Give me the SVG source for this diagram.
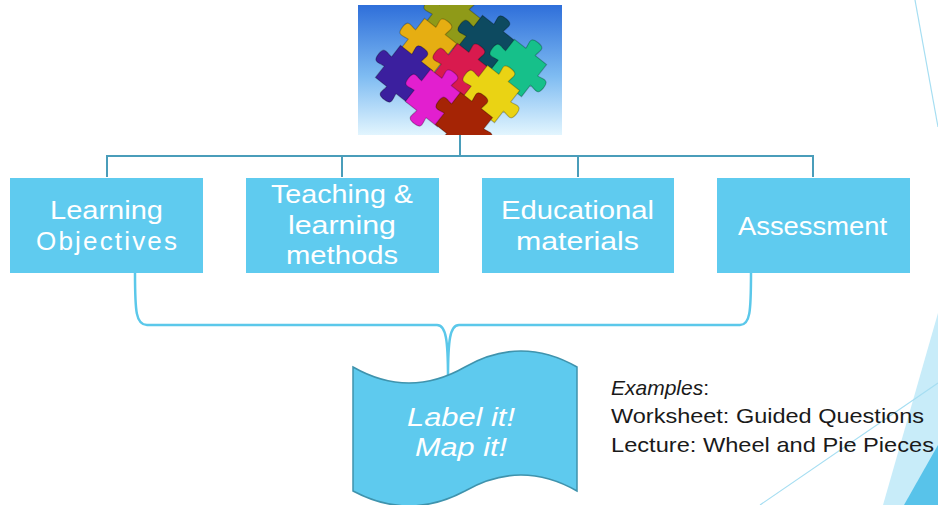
<svg xmlns="http://www.w3.org/2000/svg" xmlns:xlink="http://www.w3.org/1999/xlink" width="938" height="505" viewBox="0 0 938 505">
  <defs>
    <style>
      .box { fill: #5fcbef; }
      .boxtext { font-family: "Liberation Sans", "Open Sans", sans-serif; font-size: 26px; fill: #ffffff; text-anchor: middle; }
      .tree { fill: none; stroke: #4a9dba; stroke-width: 2; }
      .brace { fill: none; stroke: #5bc8ea; stroke-width: 2.5; }
      .ex { font-family: "Liberation Sans", "Open Sans", sans-serif; font-size: 21px; fill: #1a1a1a; }
      .lbl { font-family: "Liberation Sans", "Open Sans", sans-serif; font-size: 25px; font-style: italic; fill: #ffffff; text-anchor: middle; }
      .pz { stroke: rgba(0,0,0,0.25); stroke-width: 0.9; }
      .deco { fill: none; stroke: #a6def2; stroke-width: 1.2; }
    </style>
    <linearGradient id="sky" x1="0" y1="0" x2="0" y2="1">
      <stop offset="0" stop-color="#2f6fda"/>
      <stop offset="0.55" stop-color="#7fbcf2"/>
      <stop offset="1" stop-color="#e2f5fe"/>
    </linearGradient>
    <clipPath id="imgclip">
      <rect x="358" y="5" width="204" height="130"/>
    </clipPath>
    <path id="piece" d="M-17,-17 L-5,-17 C-5,-22 -9,-27 0,-27 C9,-27 5,-22 5,-17 L17,-17 L17,-5 C22,-5 27,-9 27,0 C27,9 22,5 17,5 L17,17 L5,17 C5,22 9,27 0,27 C-9,27 -5,22 -5,17 L-17,17 L-17,5 C-22,5 -27,9 -27,0 C-27,-9 -22,-5 -17,-5 Z"/>
  </defs>

  <rect width="938" height="505" fill="#ffffff"/>

  <!-- decorative right edge -->
  <g id="decoration">
    <polygon points="883,505 938,313 938,505" fill="#c8ecf9"/>
    <polygon points="904,505 938,445 938,505" fill="#58c3ea"/>
    <line class="deco" x1="915" y1="0" x2="938" y2="127"/>
    <line class="deco" x1="760" y1="505" x2="938" y2="383"/>
  </g>

  <!-- puzzle picture -->
  <g id="puzzle-image">
    <rect x="358" y="5" width="204" height="130" fill="url(#sky)"/>
    <g clip-path="url(#imgclip)">
      <use href="#piece" class="pz" fill="#8f9a18" transform="translate(452,22) rotate(38) scale(1.2)"/>
      <use href="#piece" class="pz" fill="#0d4a60" transform="translate(486,44) rotate(38) scale(1.2)"/>
      <use href="#piece" class="pz" fill="#e6ae12" transform="translate(428,47) rotate(38) scale(1.2)"/>
      <use href="#piece" class="pz" fill="#16c08a" transform="translate(518,68) rotate(38) scale(1.2)"/>
      <use href="#piece" class="pz" fill="#d91a4e" transform="translate(461,72) rotate(38) scale(1.2)"/>
      <use href="#piece" class="pz" fill="#3b1f9e" transform="translate(404,74) rotate(38) scale(1.2)"/>
      <use href="#piece" class="pz" fill="#ead314" transform="translate(491,94) rotate(38) scale(1.2)"/>
      <use href="#piece" class="pz" fill="#e21fcf" transform="translate(434,98) rotate(38) scale(1.2)"/>
      <use href="#piece" class="pz" fill="#a52405" transform="translate(464,121) rotate(38) scale(1.2)"/>
    </g>
  </g>

  <!-- connectors -->
  <g id="connectors">
    <path class="tree" d="M460,135 L460,156 M107,177 L107,156 L813,156 L813,177 M342,156 L342,177 M578,156 L578,177"/>
    <path class="brace" d="M135,273 C135,312 136,325 147,325 L437,325 C446,325 448,340 448,378 C448,340 450,325 459,325 L740,325 C750,325 751,312 751,273"/>
  </g>

  <!-- nodes -->
  <g id="node-learning-objectives">
    <rect class="box" x="10" y="178" width="193" height="95"/>
    <text class="boxtext" x="106.5" y="219" textLength="113" lengthAdjust="spacingAndGlyphs">Learning</text>
    <text class="boxtext" x="106.5" y="250" textLength="141" lengthAdjust="spacing">Objectives</text>
  </g>

  <g id="node-teaching-methods">
    <rect class="box" x="246" y="178" width="193" height="95"/>
    <text class="boxtext" x="342" y="203" textLength="142" lengthAdjust="spacingAndGlyphs">Teaching &amp;</text>
    <text class="boxtext" x="342" y="234" textLength="108" lengthAdjust="spacingAndGlyphs">learning</text>
    <text class="boxtext" x="342" y="264" textLength="112" lengthAdjust="spacingAndGlyphs">methods</text>
  </g>

  <g id="node-educational-materials">
    <rect class="box" x="482" y="178" width="192" height="95"/>
    <text class="boxtext" x="577.5" y="219" textLength="153" lengthAdjust="spacingAndGlyphs">Educational</text>
    <text class="boxtext" x="577.5" y="250" textLength="123" lengthAdjust="spacingAndGlyphs">materials</text>
  </g>

  <g id="node-assessment">
    <rect class="box" x="717" y="178" width="193" height="95"/>
    <text class="boxtext" x="812.5" y="235" textLength="149" lengthAdjust="spacingAndGlyphs">Assessment</text>
  </g>

  <g id="node-label-map">
    <path d="M353,367 Q409,399 465,367 Q521,335 577,367 L577,491 Q521,459 465,491 Q409,521 353,491 Z" fill="#5ecaee" stroke="#3f93ad" stroke-width="1.5"/>
    <text class="lbl" x="461" y="426" textLength="108" lengthAdjust="spacingAndGlyphs">Label it!</text>
    <text class="lbl" x="461" y="456" textLength="92" lengthAdjust="spacingAndGlyphs">Map it!</text>
  </g>

  <g id="examples">
    <text class="ex" x="611" y="395"><tspan font-style="italic">Examples</tspan>:</text>
    <text class="ex" x="611" y="423" textLength="313" lengthAdjust="spacingAndGlyphs">Worksheet: Guided Questions</text>
    <text class="ex" x="611" y="452" textLength="323" lengthAdjust="spacingAndGlyphs">Lecture: Wheel and Pie Pieces</text>
  </g>
</svg>
